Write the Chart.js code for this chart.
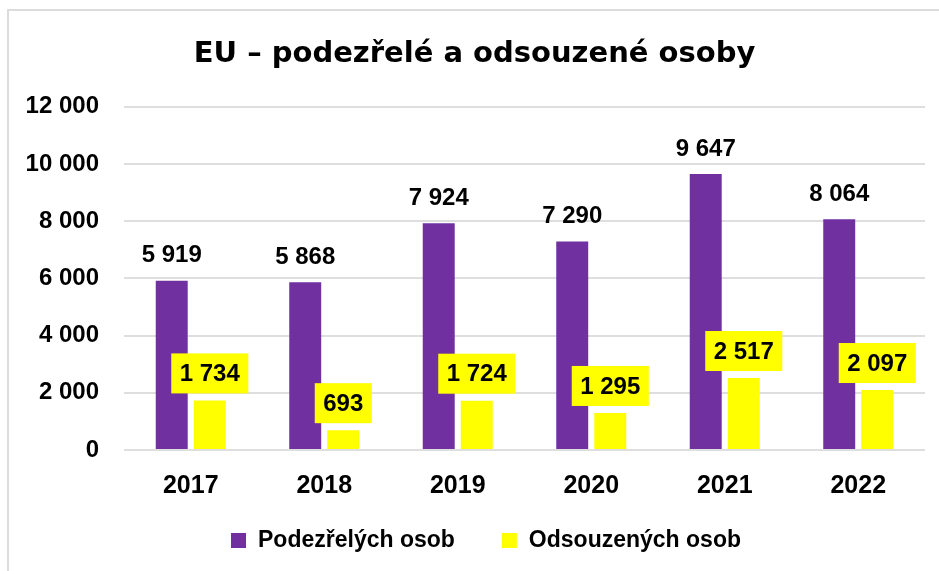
<!DOCTYPE html>
<html>
<head>
<meta charset="utf-8">
<script src="https://cdn.jsdelivr.net/npm/chart.js@4"></script>
<style>
    body { margin: 0; background: #fff; overflow: hidden; }
    #frame {
        position: absolute; left: 7px; top: 9px; width: 960px; height: 600px;
        border-left: 2px solid #dcdcdc; border-top: 2px solid #dcdcdc;
    }
    #wrap { position: absolute; left: 0; top: 0; width: 939px; height: 571px; }
</style>
</head>
<body>
<div id="frame"></div>
<div id="wrap"><canvas id="chart"></canvas></div>
<script>
const years = ['2017', '2018', '2019', '2020', '2021', '2022'];
const suspects = [5919, 5868, 7924, 7290, 9647, 8064];
const convicted = [1734, 693, 1724, 1295, 2517, 2097];
const seriesNames = ['Podezřelých osob', 'Odsouzených osob'];

const purple = '#7030A0';
const yellow = '#FFFF00';
const font = '"Liberation Sans", Arial, sans-serif';

function fmt(v) {
    return String(v).replace(/\B(?=(\d{3})+(?!\d))/g, ' ');
}

// popisky nad sloupci + vlastni legenda
const barLabels = {
    id: 'barLabels',
    afterDatasetsDraw(chart) {
        const ctx = chart.ctx;
        ctx.save();
        ctx.font = 'bold 24px ' + font;
        ctx.textAlign = 'center';
        ctx.textBaseline = 'middle';
        chart.getDatasetMeta(0).data.forEach((bar, i) => {
            ctx.fillStyle = '#000';
            ctx.fillText(fmt(suspects[i]), bar.x, bar.y - 25);
        });
        chart.getDatasetMeta(1).data.forEach((bar, i) => {
            const txt = fmt(convicted[i]);
            const w = ctx.measureText(txt).width + 17;
            const h = 40;
            ctx.fillStyle = yellow;
            ctx.fillRect(bar.x - w / 2, bar.y - 7 - h, w, h);
            ctx.fillStyle = '#000';
            ctx.fillText(txt, bar.x, bar.y - 7 - h / 2 + 1);
        });
        ctx.restore();
    },
    afterDraw(chart) {
        const ctx = chart.ctx;
        ctx.save();
        ctx.font = 'bold 23px ' + font;
        ctx.textBaseline = 'middle';
        ctx.textAlign = 'left';
        const colors = [purple, yellow];
        const widths = seriesNames.map(t => 27 + ctx.measureText(t).width);
        const total = widths[0] + 47 + widths[1];
        let x = 486 - total / 2;
        const y = 541;
        seriesNames.forEach((t, i) => {
            ctx.fillStyle = colors[i];
            ctx.fillRect(x, y - 8, 15, 15);
            ctx.fillStyle = '#000';
            ctx.fillText(t, x + 27, y);
            x += widths[i] + 47;
        });
        ctx.restore();
    }
};

new Chart(document.getElementById('chart'), {
    type: 'bar',
    data: {
        labels: years,
        datasets: [{
            label: seriesNames[0],
            data: suspects,
            backgroundColor: purple,
            categoryPercentage: 0.57,
            barPercentage: 0.84
        }, {
            label: seriesNames[1],
            data: convicted,
            backgroundColor: yellow,
            categoryPercentage: 0.57,
            barPercentage: 0.84
        }]
    },
    options: {
        responsive: true,
        maintainAspectRatio: false,
        animation: false,
        layout: { padding: { left: 24, right: 14, top: 0, bottom: 57 } },
        plugins: {
            legend: { display: false },
            tooltip: { enabled: false },
            title: {
                display: true,
                text: 'EU – podezřelé a odsouzené osoby',
                color: '#000',
                font: { family: '"DejaVu Sans", ' + font, size: 29, weight: 'bold' },
                padding: { top: 37, bottom: 35 }
            }
        },
        scales: {
            x: {
                grid: { display: false },
                border: { display: false },
                ticks: { color: '#000', padding: 13, font: { family: font, size: 25, weight: 'bold' } }
            },
            y: {
                min: 0,
                max: 12000,
                afterFit: s => { s.width = 100 },
                grid: { color: '#dedede', lineWidth: 2, drawTicks: false },
                border: { display: false },
                ticks: {
                    stepSize: 2000,
                    color: '#000',
                    padding: 25,
                    font: { family: font, size: 24, weight: 'bold' },
                    callback: v => fmt(v)
                }
            }
        }
    },
    plugins: [barLabels]
});
</script>
</body>
</html>
